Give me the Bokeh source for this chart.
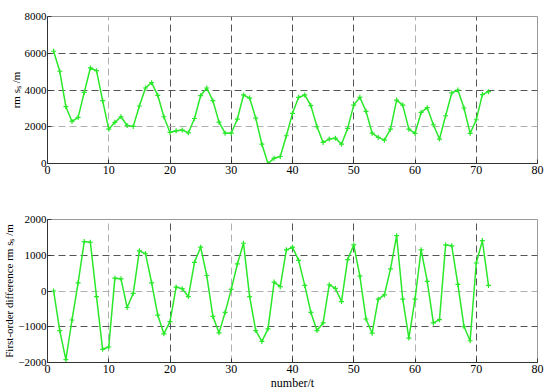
from bokeh.plotting import figure
from bokeh.layouts import column
from bokeh.models import Range1d, FixedTicker, Grid
from bokeh.embed import file_html
from bokeh.resources import INLINE

numbers = list(range(1, 73))
rms = [6110, 5020, 3090, 2290, 2510, 3870, 5200, 5050, 3420, 1870,
       2240, 2545, 2070, 2020, 3130, 4110, 4400, 3710, 2545, 1690,
       1780, 1820, 1670, 2450, 3690, 4110, 3420, 2250, 1650, 1650,
       2420, 3730, 3560, 2470, 1050, 0, 290, 380, 1510, 2730,
       3600, 3730, 3150, 2000, 1145, 1330, 1380, 1050, 1910, 3180,
       3600, 2840, 1650, 1420, 1270, 1870, 3450, 3180, 1870, 1640,
       2780, 3040, 2110, 1330, 2600, 3840, 4000, 3020, 1640, 2380,
       3750, 3910]
diff = [0, -1106, -1917, -811, 230, 1383, 1364, -157, -1631, -1567,
        360, 341, -461, -65, 1124, 1042, 230, -673, -1198, -857,
        111, 65, -157, 802, 1226, 433, -710, -1171, -599, 46,
        756, 1336, -157, -1106, -1410, -1060, 250, 120, 1152, 1226,
        857, 157, -599, -1106, -894, 175, 74, -295, 876, 1290,
        415, -783, -1180, -230, -111, 618, 1548, -230, -1318, -230,
        1152, 267, -894, -802, 1290, 1263, 184, -995, -1392, 783,
        1410, 157]

x_ticks = [0, 10, 20, 30, 40, 50, 60, 70, 80]
top_y_ticks = [0, 2000, 4000, 6000, 8000]
bot_y_ticks = [-2000, -1000, 0, 1000, 2000]

FONT = "'Liberation Serif', serif"
GREEN = "#2ae82a"
DARK = "#555555"
LIGHT = "#b0b0b0"


def add_grid(p, dim, ticks, color):
    g = Grid(dimension=dim, ticker=FixedTicker(ticks=ticks),
             grid_line_color=color, grid_line_dash="7 4", grid_line_width=1)
    p.add_layout(g)


def make_fig(height, y_range, y_ticks, ylabel, xlabel, border_top, border_bottom,
             xdark, xlight, ydark, ylight):
    p = figure(width=550, height=height, output_backend="svg", toolbar_location=None,
               x_range=Range1d(0, 80), y_range=Range1d(*y_range),
               min_border_left=45, min_border_right=13,
               min_border_top=border_top, min_border_bottom=border_bottom)
    p.xgrid.visible = False
    p.ygrid.visible = False
    add_grid(p, 0, xdark, DARK)
    add_grid(p, 0, xlight, LIGHT)
    add_grid(p, 1, ydark, DARK)
    add_grid(p, 1, ylight, LIGHT)
    p.outline_line_color = "#999999"
    p.xaxis.ticker = FixedTicker(ticks=x_ticks)
    p.yaxis.ticker = FixedTicker(ticks=y_ticks)
    for ax in (p.xaxis, p.yaxis):
        ax.major_label_text_font = FONT
        ax.major_label_text_font_size = "12px"
        ax.major_label_text_color = "black"
        ax.axis_label_text_font = FONT
        ax.axis_label_text_font_size = "12px"
        ax.axis_label_text_font_style = "normal"
        ax.axis_label_text_color = "black"
        ax.major_tick_in = 4
        ax.major_tick_out = 0
        ax.minor_tick_line_color = None
        ax.axis_line_color = "#333333"
        ax.major_tick_line_color = "#333333"
        ax.major_label_standoff = 2
        ax.axis_label_standoff = 1
    p.yaxis.major_label_text_font_size = "11px"
    p.yaxis.axis_label_text_font_size = "11px"
    p.yaxis.major_label_standoff = 1
    p.yaxis.axis_label_standoff = 0
    p.yaxis.axis_label = ylabel
    if xlabel:
        p.xaxis.axis_label = xlabel
        p.xaxis.axis_label_standoff = 0
    return p


p1 = make_fig(192, (0, 8000), top_y_ticks, "rm s\u209b /m", None, 16, 29,
              [20, 30, 40, 50, 70], [10, 60], [4000, 6000], [2000])
p1.line(numbers, rms, line_color=GREEN, line_width=1.5)
p1.scatter(numbers, rms, marker="cross", size=5, line_color=GREEN, line_width=1.2)

p2 = make_fig(200, (-2000, 2000), bot_y_ticks, "First-order difference rm s\u209b /m",
              "number/t", 27, 28,
              [20, 40, 50, 70], [10, 30, 60], [1000, -1000], [0])
p2.line(numbers, diff, line_color=GREEN, line_width=1.5)
p2.scatter(numbers, diff, marker="cross", size=5, line_color=GREEN, line_width=1.2)

layout = column(p1, p2, spacing=0)
open("out.html", "w").write(file_html(layout, INLINE))
